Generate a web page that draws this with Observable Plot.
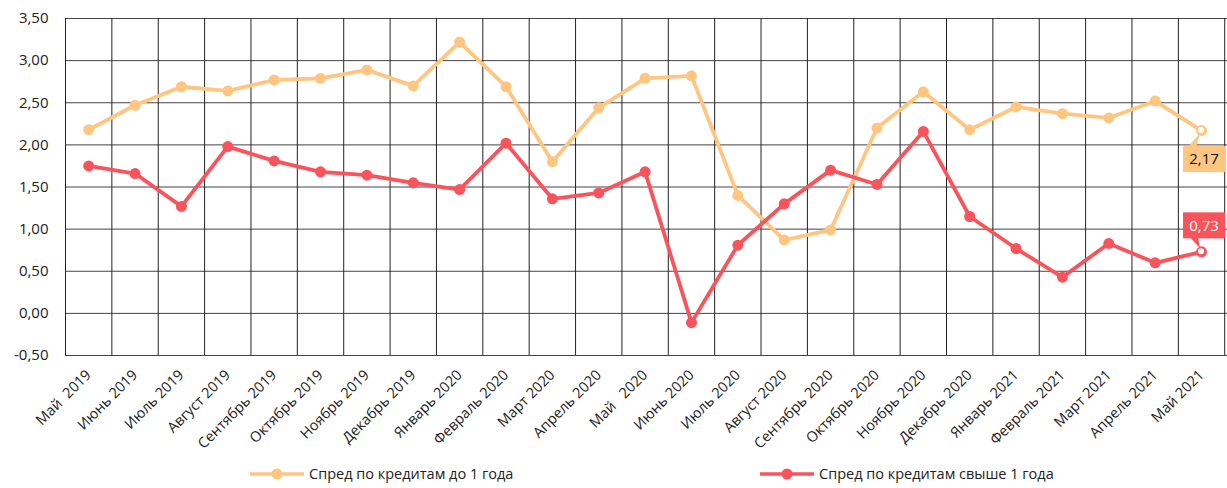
<!DOCTYPE html>
<html><head><meta charset="utf-8">
<script src="https://cdn.jsdelivr.net/npm/d3@7"></script>
<script src="https://cdn.jsdelivr.net/npm/@observablehq/plot@0.6"></script>
<style>
body{margin:0;background:#fff;font-family:"Open Sans",sans-serif}
svg text{white-space:pre}
#legend{position:relative;width:1227px;height:36px}
.item{position:absolute;top:12px;display:flex;align-items:center;font-size:14.5px;color:#222}
.item svg{margin-right:5px}
</style>
</head><body><div id="chart"></div><div id="legend"></div>
<script>
const months = ["Май  2019","Июнь 2019","Июль 2019","Август 2019","Сентябрь 2019","Октябрь 2019","Ноябрь 2019","Декабрь 2019","Январь 2020","Февраль 2020","Март 2020","Апрель 2020","Май   2020","Июнь 2020","Июль 2020","Август 2020","Сентябрь 2020","Октябрь 2020","Ноябрь 2020","Декабрь 2020","Январь 2021","Февраль 2021","Март 2021","Апрель 2021","Май 2021"];
const shortTerm = [2.18,2.47,2.69,2.64,2.77,2.79,2.89,2.70,3.22,2.69,1.80,2.44,2.79,2.82,1.40,0.87,0.99,2.20,2.63,2.18,2.45,2.37,2.32,2.52,2.17];
const longTerm = [1.75,1.66,1.27,1.98,1.81,1.68,1.64,1.55,1.47,2.02,1.36,1.43,1.68,-0.11,0.81,1.30,1.70,1.53,2.16,1.15,0.77,0.43,0.83,0.60,0.73];
const yTicks = [-0.5,0,0.5,1,1.5,2,2.5,3,3.5];
const seriesNames = ["Спред по кредитам до 1 года","Спред по кредитам свыше 1 года"];
const colors = ["#FFC681","#F9535B"];
const fmt = d => d.toFixed(2).replace(".", ",");

const n = months.length;
const plot = Plot.plot({
  width: 1227, height: 452,
  marginLeft: 65, marginRight: 0, marginTop: 18, marginBottom: 97,
  style: {fontFamily: "'Open Sans', sans-serif", color: "#222", background: "white"},
  x: {domain: [-0.5, n - 0.44]},
  y: {domain: [-0.5, 3.5]},
  marks: [
    Plot.ruleY(yTicks, {stroke: "#444", strokeWidth: 1}),
    Plot.ruleX(d3.range(n + 1).map(i => i - 0.5), {stroke: "#222", strokeWidth: 1}),
    Plot.axisY({ticks: yTicks, tickFormat: fmt, tickSize: 0, tickPadding: 17, fontSize: 15, label: null}),
    Plot.axisX({ticks: d3.range(n), tickFormat: i => months[i], tickRotate: -45, tickSize: 0, tickPadding: 17, fontSize: 14.5, label: null}),
    Plot.line(shortTerm, {x: (d, i) => i, y: d => d, stroke: colors[0], strokeWidth: 3.8}),
    Plot.dot(shortTerm, {x: (d, i) => i, y: d => d, fill: colors[0], r: 5.5}),
    Plot.line(longTerm, {x: (d, i) => i, y: d => d, stroke: colors[1], strokeWidth: 3.8}),
    Plot.dot(longTerm, {x: (d, i) => i, y: d => d, fill: colors[1], r: 5.5})
  ]
});
document.getElementById("chart").append(plot);

// callouts for last values
const sx = plot.scale("x"), sy = plot.scale("y");
const last = n - 1;
const g = d3.select(plot).append("g");
function callout(value, color, textColor, below) {
  const px = sx.apply(last), py = sy.apply(value);
  const w = 42, h = 26;
  const bx = px - 18;
  const by = below ? py + 16 : py - 39;
  const tri = below
    ? [[px - 13, by + 1], [px - 5, by + 1], [px - 1, py + 3]]
    : [[px - 11, by + h - 1], [px - 3, by + h - 1], [px - 1, py - 3]];
  g.append("rect").attr("x", bx).attr("y", by).attr("width", w).attr("height", h).attr("fill", color);
  g.append("path").attr("d", "M" + tri.map(p => p.join(",")).join("L") + "Z").attr("fill", color);
  g.append("circle").attr("cx", px).attr("cy", py).attr("r", 3).attr("fill", "white");
  g.append("text").attr("x", bx + w / 2).attr("y", by + h / 2).attr("dy", "0.35em")
    .attr("text-anchor", "middle").attr("fill", textColor).attr("font-size", 15).text(fmt(value));
}
callout(shortTerm[last], colors[0], "#111", true);
callout(longTerm[last], colors[1], "#fff", false);

// legend
const legend = document.getElementById("legend");
const lefts = [250, 760];
seriesNames.forEach((name, k) => {
  const item = document.createElement("div");
  item.className = "item";
  item.style.left = lefts[k] + "px";
  item.innerHTML = `<svg width="54" height="14"><line x1="0" x2="54" y1="7" y2="7" stroke="${colors[k]}" stroke-width="3.5"/><circle cx="27" cy="7" r="5.5" fill="${colors[k]}"/></svg><span>${name}</span>`;
  legend.append(item);
});
</script>
</body></html>
